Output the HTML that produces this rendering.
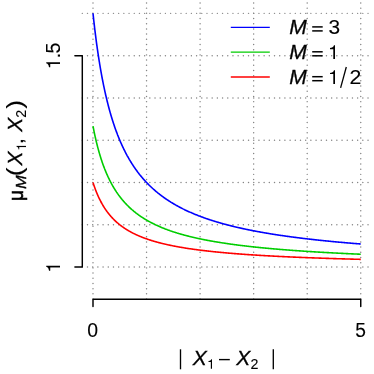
<!DOCTYPE html>
<html><head><meta charset="utf-8"><title>plot</title>
<style>
html,body{margin:0;padding:0;background:#fff;}
body{width:374px;height:374px;overflow:hidden;}
svg{display:block;}
text{font-family:"Liberation Sans",sans-serif;fill:#000;}
.i{font-style:italic;}
</style></head><body>
<svg width="374" height="374" viewBox="0 0 374 374">
<rect width="374" height="374" fill="#fff"/>
<g stroke="#858585" stroke-width="1.45" stroke-linecap="round" stroke-dasharray="0.01 5.185" fill="none">
<line x1="93.00" y1="299.05" x2="93.00" y2="2.00"/>
<line x1="146.55" y1="299.05" x2="146.55" y2="2.00"/>
<line x1="200.10" y1="299.05" x2="200.10" y2="2.00"/>
<line x1="253.65" y1="299.05" x2="253.65" y2="2.00"/>
<line x1="307.20" y1="299.05" x2="307.20" y2="2.00"/>
<line x1="360.75" y1="299.05" x2="360.75" y2="2.00"/>
<line x1="82.30" y1="267.05" x2="371.40" y2="267.05"/>
<line x1="82.30" y1="224.77" x2="371.40" y2="224.77"/>
<line x1="82.30" y1="182.49" x2="371.40" y2="182.49"/>
<line x1="82.30" y1="140.21" x2="371.40" y2="140.21"/>
<line x1="82.30" y1="97.93" x2="371.40" y2="97.93"/>
<line x1="82.30" y1="55.65" x2="371.40" y2="55.65"/>
<line x1="82.30" y1="13.37" x2="371.40" y2="13.37"/>
</g>
<g fill="none" stroke-width="1.6" stroke-linecap="butt" stroke-linejoin="round">
<path d="M93.00,13.37 L93.27,15.88 L93.54,18.34 L93.80,20.76 L94.07,23.13 L94.34,25.45 L94.61,27.73 L94.87,29.97 L95.14,32.16 L95.41,34.32 L95.68,36.43 L95.95,38.51 L96.21,40.55 L96.48,42.55 L96.75,44.52 L97.02,46.46 L97.28,48.36 L97.55,50.23 L97.82,52.07 L98.09,53.87 L98.36,55.65 L98.62,57.40 L98.89,59.12 L99.16,60.81 L99.43,62.47 L99.69,64.11 L99.96,65.72 L100.23,67.30 L100.50,68.86 L100.76,70.40 L101.03,71.91 L101.30,73.40 L101.57,74.87 L101.84,76.31 L102.10,77.74 L102.37,79.14 L102.64,80.52 L102.91,81.88 L103.17,83.22 L103.44,84.55 L103.71,85.85 L103.98,87.14 L104.25,88.40 L104.51,89.65 L104.78,90.88 L105.05,92.10 L105.32,93.30 L105.58,94.48 L105.85,95.64 L106.12,96.79 L106.39,97.93 L106.66,99.05 L106.92,100.16 L107.19,101.25 L107.46,102.32 L107.73,103.39 L107.99,104.43 L108.26,105.47 L108.53,106.49 L108.80,107.50 L109.06,108.50 L109.33,109.48 L109.60,110.46 L109.87,111.42 L110.14,112.37 L110.40,113.30 L110.67,114.23 L110.94,115.15 L111.21,116.05 L111.47,116.94 L111.74,117.83 L112.01,118.70 L112.28,119.56 L112.55,120.41 L112.81,121.26 L113.08,122.09 L113.35,122.91 L113.62,123.73 L113.88,124.53 L114.15,125.33 L114.42,126.12 L114.69,126.90 L114.96,127.67 L115.22,128.43 L115.49,129.18 L115.76,129.93 L116.03,130.66 L116.29,131.39 L116.56,132.11 L116.83,132.83 L117.10,133.53 L117.37,134.23 L117.63,134.93 L117.90,135.61 L118.17,136.29 L118.44,136.96 L118.70,137.62 L118.97,138.28 L119.24,138.93 L119.51,139.57 L119.78,140.21 L120.04,140.84 L120.31,141.47 L120.58,142.08 L120.85,142.70 L121.11,143.30 L121.38,143.90 L121.65,144.50 L121.92,145.09 L122.18,145.67 L122.45,146.25 L122.72,146.82 L122.99,147.39 L123.26,147.95 L123.52,148.51 L123.79,149.06 L124.06,149.61 L124.33,150.15 L124.59,150.68 L124.86,151.21 L125.13,151.74 L125.40,152.26 L125.67,152.78 L125.93,153.29 L126.20,153.80 L126.47,154.30 L126.74,154.80 L127.00,155.30 L127.27,155.79 L127.54,156.27 L127.81,156.75 L128.08,157.23 L128.34,157.71 L128.61,158.17 L128.88,158.64 L129.15,159.10 L129.41,159.56 L129.68,160.01 L129.95,160.46 L130.22,160.91 L130.49,161.35 L130.75,161.79 L131.02,162.22 L131.29,162.65 L131.56,163.08 L131.82,163.51 L132.09,163.93 L132.36,164.35 L132.63,164.76 L132.89,165.17 L133.16,165.58 L133.43,165.98 L133.70,166.38 L133.97,166.78 L134.23,167.18 L134.50,167.57 L134.77,167.96 L135.04,168.34 L135.30,168.72 L135.57,169.10 L135.84,169.48 L136.11,169.85 L136.38,170.23 L136.64,170.59 L136.91,170.96 L137.18,171.32 L137.45,171.68 L137.71,172.04 L137.98,172.39 L138.25,172.75 L138.52,173.09 L138.79,173.44 L139.05,173.79 L139.32,174.13 L139.59,174.47 L139.86,174.80 L140.12,175.14 L140.39,175.47 L140.66,175.80 L140.93,176.13 L141.19,176.45 L141.46,176.77 L141.73,177.09 L142.00,177.41 L142.27,177.73 L142.53,178.04 L142.80,178.35 L143.07,178.66 L143.34,178.97 L143.60,179.27 L143.87,179.57 L144.14,179.87 L144.41,180.17 L144.68,180.47 L144.94,180.76 L145.21,181.06 L145.48,181.35 L145.75,181.64 L146.01,181.92 L146.28,182.21 L146.55,182.49 L147.09,183.05 L147.62,183.60 L148.16,184.15 L148.69,184.69 L149.23,185.22 L149.76,185.74 L150.30,186.26 L150.83,186.77 L151.37,187.28 L151.91,187.78 L152.44,188.27 L152.98,188.75 L153.51,189.23 L154.05,189.71 L154.58,190.18 L155.12,190.64 L155.65,191.10 L156.19,191.55 L156.72,192.00 L157.26,192.44 L157.80,192.87 L158.33,193.31 L158.87,193.73 L159.40,194.15 L159.94,194.57 L160.47,194.98 L161.01,195.39 L161.54,195.79 L162.08,196.19 L162.62,196.58 L163.15,196.97 L163.69,197.36 L164.22,197.74 L164.76,198.12 L165.29,198.49 L165.83,198.86 L166.36,199.22 L166.90,199.58 L167.43,199.94 L167.97,200.29 L168.51,200.64 L169.04,200.99 L169.58,201.33 L170.11,201.67 L170.65,202.00 L171.18,202.34 L171.72,202.66 L172.25,202.99 L172.79,203.31 L173.32,203.63 L173.86,203.95 L174.40,204.26 L174.93,204.57 L175.47,204.87 L176.00,205.18 L176.54,205.48 L177.07,205.77 L177.61,206.07 L178.14,206.36 L178.68,206.65 L179.22,206.94 L179.75,207.22 L180.29,207.50 L180.82,207.78 L181.36,208.05 L181.89,208.33 L182.43,208.60 L182.96,208.87 L183.50,209.13 L184.04,209.40 L184.57,209.66 L185.11,209.91 L185.64,210.17 L186.18,210.43 L186.71,210.68 L187.25,210.93 L187.78,211.17 L188.32,211.42 L188.85,211.66 L189.39,211.90 L189.93,212.14 L190.46,212.38 L191.00,212.61 L191.53,212.84 L192.07,213.08 L192.60,213.30 L193.14,213.53 L193.67,213.76 L194.21,213.98 L194.75,214.20 L195.28,214.42 L195.82,214.64 L196.35,214.85 L196.89,215.07 L197.42,215.28 L197.96,215.49 L198.49,215.70 L199.03,215.90 L199.56,216.11 L200.10,216.31 L200.64,216.52 L201.17,216.72 L201.71,216.92 L202.24,217.11 L202.78,217.31 L203.31,217.50 L203.85,217.70 L204.38,217.89 L204.92,218.08 L205.45,218.27 L205.99,218.45 L206.53,218.64 L207.06,218.82 L207.60,219.00 L208.13,219.19 L208.67,219.37 L209.20,219.54 L209.74,219.72 L210.27,219.90 L210.81,220.07 L211.35,220.25 L211.88,220.42 L212.42,220.59 L212.95,220.76 L213.49,220.93 L214.02,221.09 L214.56,221.26 L215.09,221.42 L215.63,221.59 L216.16,221.75 L216.70,221.91 L217.24,222.07 L217.77,222.23 L218.31,222.39 L218.84,222.54 L219.38,222.70 L219.91,222.85 L220.45,223.01 L220.98,223.16 L221.52,223.31 L222.06,223.46 L222.59,223.61 L223.13,223.76 L223.66,223.91 L224.20,224.05 L224.73,224.20 L225.27,224.34 L225.80,224.49 L226.34,224.63 L226.88,224.77 L227.41,224.91 L227.95,225.05 L228.48,225.19 L229.02,225.33 L229.55,225.46 L230.09,225.60 L230.62,225.73 L231.16,225.87 L231.69,226.00 L232.23,226.13 L232.77,226.27 L233.30,226.40 L233.84,226.53 L234.37,226.66 L234.91,226.78 L235.44,226.91 L235.98,227.04 L236.51,227.16 L237.05,227.29 L237.59,227.41 L238.12,227.54 L238.66,227.66 L239.19,227.78 L239.73,227.90 L240.26,228.02 L240.80,228.14 L241.33,228.26 L241.87,228.38 L242.40,228.50 L242.94,228.61 L243.48,228.73 L244.01,228.85 L244.55,228.96 L245.08,229.07 L245.62,229.19 L246.15,229.30 L246.69,229.41 L247.22,229.52 L247.76,229.63 L248.30,229.74 L248.83,229.85 L249.37,229.96 L249.90,230.07 L250.44,230.18 L250.97,230.28 L251.51,230.39 L252.04,230.50 L252.58,230.60 L253.11,230.71 L253.65,230.81 L254.19,230.91 L254.72,231.02 L255.26,231.12 L255.79,231.22 L256.33,231.32 L256.86,231.42 L257.40,231.52 L257.93,231.62 L258.47,231.72 L259.00,231.82 L259.54,231.91 L260.08,232.01 L260.61,232.11 L261.15,232.20 L261.68,232.30 L262.22,232.39 L262.75,232.49 L263.29,232.58 L263.82,232.68 L264.36,232.77 L264.90,232.86 L265.43,232.95 L265.97,233.04 L266.50,233.14 L267.04,233.23 L267.57,233.32 L268.11,233.41 L268.64,233.49 L269.18,233.58 L269.72,233.67 L270.25,233.76 L270.79,233.85 L271.32,233.93 L271.86,234.02 L272.39,234.10 L272.93,234.19 L273.46,234.27 L274.00,234.36 L274.53,234.44 L275.07,234.53 L275.61,234.61 L276.14,234.69 L276.68,234.78 L277.21,234.86 L277.75,234.94 L278.28,235.02 L278.82,235.10 L279.35,235.18 L279.89,235.26 L280.42,235.34 L280.96,235.42 L281.50,235.50 L282.03,235.58 L282.57,235.65 L283.10,235.73 L283.64,235.81 L284.17,235.89 L284.71,235.96 L285.24,236.04 L285.78,236.11 L286.32,236.19 L286.85,236.26 L287.39,236.34 L287.92,236.41 L288.46,236.49 L288.99,236.56 L289.53,236.63 L290.06,236.71 L290.60,236.78 L291.13,236.85 L291.67,236.92 L292.21,236.99 L292.74,237.06 L293.28,237.13 L293.81,237.21 L294.35,237.28 L294.88,237.35 L295.42,237.41 L295.95,237.48 L296.49,237.55 L297.03,237.62 L297.56,237.69 L298.10,237.76 L298.63,237.82 L299.17,237.89 L299.70,237.96 L300.24,238.02 L300.77,238.09 L301.31,238.16 L301.84,238.22 L302.38,238.29 L302.92,238.35 L303.45,238.42 L303.99,238.48 L304.52,238.55 L305.06,238.61 L305.59,238.67 L306.13,238.74 L306.66,238.80 L307.20,238.86 L307.74,238.93 L308.27,238.99 L308.81,239.05 L309.34,239.11 L309.88,239.17 L310.41,239.23 L310.95,239.30 L311.48,239.36 L312.02,239.42 L312.55,239.48 L313.09,239.54 L313.63,239.60 L314.16,239.65 L314.70,239.71 L315.23,239.77 L315.77,239.83 L316.30,239.89 L316.84,239.95 L317.37,240.01 L317.91,240.06 L318.45,240.12 L318.98,240.18 L319.52,240.23 L320.05,240.29 L320.59,240.35 L321.12,240.40 L321.66,240.46 L322.19,240.51 L322.73,240.57 L323.26,240.62 L323.80,240.68 L324.34,240.73 L324.87,240.79 L325.41,240.84 L325.94,240.90 L326.48,240.95 L327.01,241.00 L327.55,241.06 L328.08,241.11 L328.62,241.16 L329.16,241.22 L329.69,241.27 L330.23,241.32 L330.76,241.37 L331.30,241.43 L331.83,241.48 L332.37,241.53 L332.90,241.58 L333.44,241.63 L333.98,241.68 L334.51,241.73 L335.05,241.78 L335.58,241.83 L336.12,241.88 L336.65,241.93 L337.19,241.98 L337.72,242.03 L338.26,242.08 L338.79,242.13 L339.33,242.18 L339.87,242.23 L340.40,242.28 L340.94,242.32 L341.47,242.37 L342.01,242.42 L342.54,242.47 L343.08,242.52 L343.61,242.56 L344.15,242.61 L344.69,242.66 L345.22,242.70 L345.76,242.75 L346.29,242.80 L346.83,242.84 L347.36,242.89 L347.90,242.94 L348.43,242.98 L348.97,243.03 L349.50,243.07 L350.04,243.12 L350.58,243.16 L351.11,243.21 L351.65,243.25 L352.18,243.30 L352.72,243.34 L353.25,243.39 L353.79,243.43 L354.32,243.47 L354.86,243.52 L355.39,243.56 L355.93,243.60 L356.47,243.65 L357.00,243.69 L357.54,243.73 L358.07,243.78 L358.61,243.82 L359.14,243.86 L359.68,243.90 L360.21,243.95 L360.75,243.99" stroke="#0000ff"/>
<path d="M93.00,126.12 L93.27,127.51 L93.54,128.88 L93.80,130.22 L94.07,131.54 L94.34,132.83 L94.61,134.09 L94.87,135.34 L95.14,136.56 L95.41,137.75 L95.68,138.93 L95.95,140.08 L96.21,141.22 L96.48,142.33 L96.75,143.42 L97.02,144.50 L97.28,145.56 L97.55,146.59 L97.82,147.61 L98.09,148.62 L98.36,149.61 L98.62,150.58 L98.89,151.53 L99.16,152.47 L99.43,153.39 L99.69,154.30 L99.96,155.20 L100.23,156.08 L100.50,156.95 L100.76,157.80 L101.03,158.64 L101.30,159.47 L101.57,160.28 L101.84,161.09 L102.10,161.88 L102.37,162.65 L102.64,163.42 L102.91,164.18 L103.17,164.92 L103.44,165.66 L103.71,166.38 L103.98,167.10 L104.25,167.80 L104.51,168.50 L104.78,169.18 L105.05,169.85 L105.32,170.52 L105.58,171.18 L105.85,171.82 L106.12,172.46 L106.39,173.09 L106.66,173.72 L106.92,174.33 L107.19,174.94 L107.46,175.53 L107.73,176.13 L107.99,176.71 L108.26,177.28 L108.53,177.85 L108.80,178.41 L109.06,178.97 L109.33,179.51 L109.60,180.05 L109.87,180.59 L110.14,181.12 L110.40,181.64 L110.67,182.15 L110.94,182.66 L111.21,183.16 L111.47,183.66 L111.74,184.15 L112.01,184.63 L112.28,185.11 L112.55,185.59 L112.81,186.05 L113.08,186.52 L113.35,186.97 L113.62,187.43 L113.88,187.87 L114.15,188.32 L114.42,188.75 L114.69,189.19 L114.96,189.61 L115.22,190.04 L115.49,190.46 L115.76,190.87 L116.03,191.28 L116.29,191.68 L116.56,192.09 L116.83,192.48 L117.10,192.87 L117.37,193.26 L117.63,193.65 L117.90,194.03 L118.17,194.40 L118.44,194.78 L118.70,195.15 L118.97,195.51 L119.24,195.87 L119.51,196.23 L119.78,196.58 L120.04,196.93 L120.31,197.28 L120.58,197.62 L120.85,197.97 L121.11,198.30 L121.38,198.64 L121.65,198.97 L121.92,199.29 L122.18,199.62 L122.45,199.94 L122.72,200.26 L122.99,200.57 L123.26,200.88 L123.52,201.19 L123.79,201.50 L124.06,201.80 L124.33,202.10 L124.59,202.40 L124.86,202.70 L125.13,202.99 L125.40,203.28 L125.67,203.57 L125.93,203.85 L126.20,204.13 L126.47,204.41 L126.74,204.69 L127.00,204.96 L127.27,205.24 L127.54,205.51 L127.81,205.77 L128.08,206.04 L128.34,206.30 L128.61,206.56 L128.88,206.82 L129.15,207.08 L129.41,207.33 L129.68,207.58 L129.95,207.83 L130.22,208.08 L130.49,208.33 L130.75,208.57 L131.02,208.81 L131.29,209.05 L131.56,209.29 L131.82,209.53 L132.09,209.76 L132.36,209.99 L132.63,210.22 L132.89,210.45 L133.16,210.68 L133.43,210.90 L133.70,211.12 L133.97,211.35 L134.23,211.56 L134.50,211.78 L134.77,212.00 L135.04,212.21 L135.30,212.42 L135.57,212.64 L135.84,212.84 L136.11,213.05 L136.38,213.26 L136.64,213.46 L136.91,213.67 L137.18,213.87 L137.45,214.07 L137.71,214.27 L137.98,214.46 L138.25,214.66 L138.52,214.85 L138.79,215.05 L139.05,215.24 L139.32,215.43 L139.59,215.61 L139.86,215.80 L140.12,215.99 L140.39,216.17 L140.66,216.35 L140.93,216.54 L141.19,216.72 L141.46,216.90 L141.73,217.07 L142.00,217.25 L142.27,217.43 L142.53,217.60 L142.80,217.77 L143.07,217.94 L143.34,218.11 L143.60,218.28 L143.87,218.45 L144.14,218.62 L144.41,218.79 L144.68,218.95 L144.94,219.11 L145.21,219.28 L145.48,219.44 L145.75,219.60 L146.01,219.76 L146.28,219.92 L146.55,220.07 L147.09,220.38 L147.62,220.69 L148.16,220.99 L148.69,221.29 L149.23,221.59 L149.76,221.88 L150.30,222.17 L150.83,222.45 L151.37,222.73 L151.91,223.01 L152.44,223.28 L152.98,223.55 L153.51,223.82 L154.05,224.08 L154.58,224.34 L155.12,224.60 L155.65,224.85 L156.19,225.11 L156.72,225.35 L157.26,225.60 L157.80,225.84 L158.33,226.08 L158.87,226.32 L159.40,226.55 L159.94,226.78 L160.47,227.01 L161.01,227.24 L161.54,227.46 L162.08,227.68 L162.62,227.90 L163.15,228.12 L163.69,228.33 L164.22,228.54 L164.76,228.75 L165.29,228.96 L165.83,229.16 L166.36,229.37 L166.90,229.57 L167.43,229.77 L167.97,229.96 L168.51,230.16 L169.04,230.35 L169.58,230.54 L170.11,230.73 L170.65,230.91 L171.18,231.10 L171.72,231.28 L172.25,231.46 L172.79,231.64 L173.32,231.82 L173.86,231.99 L174.40,232.17 L174.93,232.34 L175.47,232.51 L176.00,232.68 L176.54,232.84 L177.07,233.01 L177.61,233.17 L178.14,233.33 L178.68,233.49 L179.22,233.65 L179.75,233.81 L180.29,233.97 L180.82,234.12 L181.36,234.27 L181.89,234.43 L182.43,234.58 L182.96,234.73 L183.50,234.87 L184.04,235.02 L184.57,235.16 L185.11,235.31 L185.64,235.45 L186.18,235.59 L186.71,235.73 L187.25,235.87 L187.78,236.01 L188.32,236.14 L188.85,236.28 L189.39,236.41 L189.93,236.54 L190.46,236.68 L191.00,236.81 L191.53,236.94 L192.07,237.06 L192.60,237.19 L193.14,237.32 L193.67,237.44 L194.21,237.57 L194.75,237.69 L195.28,237.81 L195.82,237.93 L196.35,238.05 L196.89,238.17 L197.42,238.29 L197.96,238.41 L198.49,238.52 L199.03,238.64 L199.56,238.75 L200.10,238.86 L200.64,238.98 L201.17,239.09 L201.71,239.20 L202.24,239.31 L202.78,239.42 L203.31,239.52 L203.85,239.63 L204.38,239.74 L204.92,239.84 L205.45,239.95 L205.99,240.05 L206.53,240.15 L207.06,240.26 L207.60,240.36 L208.13,240.46 L208.67,240.56 L209.20,240.66 L209.74,240.76 L210.27,240.85 L210.81,240.95 L211.35,241.05 L211.88,241.14 L212.42,241.24 L212.95,241.33 L213.49,241.43 L214.02,241.52 L214.56,241.61 L215.09,241.70 L215.63,241.79 L216.16,241.88 L216.70,241.97 L217.24,242.06 L217.77,242.15 L218.31,242.24 L218.84,242.32 L219.38,242.41 L219.91,242.50 L220.45,242.58 L220.98,242.67 L221.52,242.75 L222.06,242.83 L222.59,242.92 L223.13,243.00 L223.66,243.08 L224.20,243.16 L224.73,243.24 L225.27,243.32 L225.80,243.40 L226.34,243.48 L226.88,243.56 L227.41,243.64 L227.95,243.72 L228.48,243.79 L229.02,243.87 L229.55,243.95 L230.09,244.02 L230.62,244.10 L231.16,244.17 L231.69,244.25 L232.23,244.32 L232.77,244.39 L233.30,244.46 L233.84,244.54 L234.37,244.61 L234.91,244.68 L235.44,244.75 L235.98,244.82 L236.51,244.89 L237.05,244.96 L237.59,245.03 L238.12,245.10 L238.66,245.17 L239.19,245.23 L239.73,245.30 L240.26,245.37 L240.80,245.43 L241.33,245.50 L241.87,245.57 L242.40,245.63 L242.94,245.70 L243.48,245.76 L244.01,245.83 L244.55,245.89 L245.08,245.95 L245.62,246.02 L246.15,246.08 L246.69,246.14 L247.22,246.20 L247.76,246.26 L248.30,246.32 L248.83,246.39 L249.37,246.45 L249.90,246.51 L250.44,246.57 L250.97,246.62 L251.51,246.68 L252.04,246.74 L252.58,246.80 L253.11,246.86 L253.65,246.92 L254.19,246.97 L254.72,247.03 L255.26,247.09 L255.79,247.14 L256.33,247.20 L256.86,247.26 L257.40,247.31 L257.93,247.37 L258.47,247.42 L259.00,247.48 L259.54,247.53 L260.08,247.58 L260.61,247.64 L261.15,247.69 L261.68,247.74 L262.22,247.80 L262.75,247.85 L263.29,247.90 L263.82,247.95 L264.36,248.00 L264.90,248.06 L265.43,248.11 L265.97,248.16 L266.50,248.21 L267.04,248.26 L267.57,248.31 L268.11,248.36 L268.64,248.41 L269.18,248.46 L269.72,248.51 L270.25,248.55 L270.79,248.60 L271.32,248.65 L271.86,248.70 L272.39,248.75 L272.93,248.79 L273.46,248.84 L274.00,248.89 L274.53,248.94 L275.07,248.98 L275.61,249.03 L276.14,249.07 L276.68,249.12 L277.21,249.17 L277.75,249.21 L278.28,249.26 L278.82,249.30 L279.35,249.34 L279.89,249.39 L280.42,249.43 L280.96,249.48 L281.50,249.52 L282.03,249.56 L282.57,249.61 L283.10,249.65 L283.64,249.69 L284.17,249.74 L284.71,249.78 L285.24,249.82 L285.78,249.86 L286.32,249.90 L286.85,249.95 L287.39,249.99 L287.92,250.03 L288.46,250.07 L288.99,250.11 L289.53,250.15 L290.06,250.19 L290.60,250.23 L291.13,250.27 L291.67,250.31 L292.21,250.35 L292.74,250.39 L293.28,250.43 L293.81,250.47 L294.35,250.51 L294.88,250.55 L295.42,250.59 L295.95,250.62 L296.49,250.66 L297.03,250.70 L297.56,250.74 L298.10,250.78 L298.63,250.81 L299.17,250.85 L299.70,250.89 L300.24,250.92 L300.77,250.96 L301.31,251.00 L301.84,251.03 L302.38,251.07 L302.92,251.11 L303.45,251.14 L303.99,251.18 L304.52,251.21 L305.06,251.25 L305.59,251.29 L306.13,251.32 L306.66,251.36 L307.20,251.39 L307.74,251.43 L308.27,251.46 L308.81,251.49 L309.34,251.53 L309.88,251.56 L310.41,251.60 L310.95,251.63 L311.48,251.66 L312.02,251.70 L312.55,251.73 L313.09,251.76 L313.63,251.80 L314.16,251.83 L314.70,251.86 L315.23,251.90 L315.77,251.93 L316.30,251.96 L316.84,251.99 L317.37,252.03 L317.91,252.06 L318.45,252.09 L318.98,252.12 L319.52,252.15 L320.05,252.18 L320.59,252.21 L321.12,252.25 L321.66,252.28 L322.19,252.31 L322.73,252.34 L323.26,252.37 L323.80,252.40 L324.34,252.43 L324.87,252.46 L325.41,252.49 L325.94,252.52 L326.48,252.55 L327.01,252.58 L327.55,252.61 L328.08,252.64 L328.62,252.67 L329.16,252.70 L329.69,252.73 L330.23,252.76 L330.76,252.79 L331.30,252.81 L331.83,252.84 L332.37,252.87 L332.90,252.90 L333.44,252.93 L333.98,252.96 L334.51,252.98 L335.05,253.01 L335.58,253.04 L336.12,253.07 L336.65,253.10 L337.19,253.12 L337.72,253.15 L338.26,253.18 L338.79,253.21 L339.33,253.23 L339.87,253.26 L340.40,253.29 L340.94,253.31 L341.47,253.34 L342.01,253.37 L342.54,253.39 L343.08,253.42 L343.61,253.45 L344.15,253.47 L344.69,253.50 L345.22,253.52 L345.76,253.55 L346.29,253.58 L346.83,253.60 L347.36,253.63 L347.90,253.65 L348.43,253.68 L348.97,253.70 L349.50,253.73 L350.04,253.75 L350.58,253.78 L351.11,253.80 L351.65,253.83 L352.18,253.85 L352.72,253.88 L353.25,253.90 L353.79,253.93 L354.32,253.95 L354.86,253.98 L355.39,254.00 L355.93,254.02 L356.47,254.05 L357.00,254.07 L357.54,254.10 L358.07,254.12 L358.61,254.14 L359.14,254.17 L359.68,254.19 L360.21,254.21 L360.75,254.24" stroke="#00cd00"/>
<path d="M93.00,182.49 L93.27,183.33 L93.54,184.15 L93.80,184.95 L94.07,185.74 L94.34,186.52 L94.61,187.28 L94.87,188.02 L95.14,188.75 L95.41,189.47 L95.68,190.18 L95.95,190.87 L96.21,191.55 L96.48,192.22 L96.75,192.87 L97.02,193.52 L97.28,194.15 L97.55,194.78 L97.82,195.39 L98.09,195.99 L98.36,196.58 L98.62,197.17 L98.89,197.74 L99.16,198.30 L99.43,198.86 L99.69,199.40 L99.96,199.94 L100.23,200.47 L100.50,200.99 L100.76,201.50 L101.03,202.00 L101.30,202.50 L101.57,202.99 L101.84,203.47 L102.10,203.95 L102.37,204.41 L102.64,204.87 L102.91,205.33 L103.17,205.77 L103.44,206.22 L103.71,206.65 L103.98,207.08 L104.25,207.50 L104.51,207.92 L104.78,208.33 L105.05,208.73 L105.32,209.13 L105.58,209.53 L105.85,209.91 L106.12,210.30 L106.39,210.68 L106.66,211.05 L106.92,211.42 L107.19,211.78 L107.46,212.14 L107.73,212.50 L107.99,212.84 L108.26,213.19 L108.53,213.53 L108.80,213.87 L109.06,214.20 L109.33,214.53 L109.60,214.85 L109.87,215.17 L110.14,215.49 L110.40,215.80 L110.67,216.11 L110.94,216.42 L111.21,216.72 L111.47,217.01 L111.74,217.31 L112.01,217.60 L112.28,217.89 L112.55,218.17 L112.81,218.45 L113.08,218.73 L113.35,219.00 L113.62,219.28 L113.88,219.54 L114.15,219.81 L114.42,220.07 L114.69,220.33 L114.96,220.59 L115.22,220.84 L115.49,221.09 L115.76,221.34 L116.03,221.59 L116.29,221.83 L116.56,222.07 L116.83,222.31 L117.10,222.54 L117.37,222.78 L117.63,223.01 L117.90,223.24 L118.17,223.46 L118.44,223.69 L118.70,223.91 L118.97,224.13 L119.24,224.34 L119.51,224.56 L119.78,224.77 L120.04,224.98 L120.31,225.19 L120.58,225.39 L120.85,225.60 L121.11,225.80 L121.38,226.00 L121.65,226.20 L121.92,226.40 L122.18,226.59 L122.45,226.78 L122.72,226.97 L122.99,227.16 L123.26,227.35 L123.52,227.54 L123.79,227.72 L124.06,227.90 L124.33,228.08 L124.59,228.26 L124.86,228.44 L125.13,228.61 L125.40,228.79 L125.67,228.96 L125.93,229.13 L126.20,229.30 L126.47,229.47 L126.74,229.63 L127.00,229.80 L127.27,229.96 L127.54,230.12 L127.81,230.28 L128.08,230.44 L128.34,230.60 L128.61,230.76 L128.88,230.91 L129.15,231.07 L129.41,231.22 L129.68,231.37 L129.95,231.52 L130.22,231.67 L130.49,231.82 L130.75,231.96 L131.02,232.11 L131.29,232.25 L131.56,232.39 L131.82,232.54 L132.09,232.68 L132.36,232.82 L132.63,232.95 L132.89,233.09 L133.16,233.23 L133.43,233.36 L133.70,233.49 L133.97,233.63 L134.23,233.76 L134.50,233.89 L134.77,234.02 L135.04,234.15 L135.30,234.27 L135.57,234.40 L135.84,234.53 L136.11,234.65 L136.38,234.78 L136.64,234.90 L136.91,235.02 L137.18,235.14 L137.45,235.26 L137.71,235.38 L137.98,235.50 L138.25,235.62 L138.52,235.73 L138.79,235.85 L139.05,235.96 L139.32,236.08 L139.59,236.19 L139.86,236.30 L140.12,236.41 L140.39,236.52 L140.66,236.63 L140.93,236.74 L141.19,236.85 L141.46,236.96 L141.73,237.06 L142.00,237.17 L142.27,237.28 L142.53,237.38 L142.80,237.48 L143.07,237.59 L143.34,237.69 L143.60,237.79 L143.87,237.89 L144.14,237.99 L144.41,238.09 L144.68,238.19 L144.94,238.29 L145.21,238.39 L145.48,238.48 L145.75,238.58 L146.01,238.67 L146.28,238.77 L146.55,238.86 L147.09,239.05 L147.62,239.23 L148.16,239.42 L148.69,239.60 L149.23,239.77 L149.76,239.95 L150.30,240.12 L150.83,240.29 L151.37,240.46 L151.91,240.62 L152.44,240.79 L152.98,240.95 L153.51,241.11 L154.05,241.27 L154.58,241.43 L155.12,241.58 L155.65,241.73 L156.19,241.88 L156.72,242.03 L157.26,242.18 L157.80,242.32 L158.33,242.47 L158.87,242.61 L159.40,242.75 L159.94,242.89 L160.47,243.03 L161.01,243.16 L161.54,243.30 L162.08,243.43 L162.62,243.56 L163.15,243.69 L163.69,243.82 L164.22,243.95 L164.76,244.07 L165.29,244.20 L165.83,244.32 L166.36,244.44 L166.90,244.56 L167.43,244.68 L167.97,244.80 L168.51,244.91 L169.04,245.03 L169.58,245.14 L170.11,245.26 L170.65,245.37 L171.18,245.48 L171.72,245.59 L172.25,245.70 L172.79,245.80 L173.32,245.91 L173.86,246.02 L174.40,246.12 L174.93,246.22 L175.47,246.32 L176.00,246.43 L176.54,246.53 L177.07,246.62 L177.61,246.72 L178.14,246.82 L178.68,246.92 L179.22,247.01 L179.75,247.11 L180.29,247.20 L180.82,247.29 L181.36,247.38 L181.89,247.48 L182.43,247.57 L182.96,247.66 L183.50,247.74 L184.04,247.83 L184.57,247.92 L185.11,248.00 L185.64,248.09 L186.18,248.17 L186.71,248.26 L187.25,248.34 L187.78,248.42 L188.32,248.51 L188.85,248.59 L189.39,248.67 L189.93,248.75 L190.46,248.83 L191.00,248.90 L191.53,248.98 L192.07,249.06 L192.60,249.13 L193.14,249.21 L193.67,249.29 L194.21,249.36 L194.75,249.43 L195.28,249.51 L195.82,249.58 L196.35,249.65 L196.89,249.72 L197.42,249.79 L197.96,249.86 L198.49,249.93 L199.03,250.00 L199.56,250.07 L200.10,250.14 L200.64,250.21 L201.17,250.27 L201.71,250.34 L202.24,250.40 L202.78,250.47 L203.31,250.53 L203.85,250.60 L204.38,250.66 L204.92,250.73 L205.45,250.79 L205.99,250.85 L206.53,250.91 L207.06,250.97 L207.60,251.03 L208.13,251.10 L208.67,251.16 L209.20,251.21 L209.74,251.27 L210.27,251.33 L210.81,251.39 L211.35,251.45 L211.88,251.51 L212.42,251.56 L212.95,251.62 L213.49,251.68 L214.02,251.73 L214.56,251.79 L215.09,251.84 L215.63,251.90 L216.16,251.95 L216.70,252.00 L217.24,252.06 L217.77,252.11 L218.31,252.16 L218.84,252.21 L219.38,252.27 L219.91,252.32 L220.45,252.37 L220.98,252.42 L221.52,252.47 L222.06,252.52 L222.59,252.57 L223.13,252.62 L223.66,252.67 L224.20,252.72 L224.73,252.77 L225.27,252.81 L225.80,252.86 L226.34,252.91 L226.88,252.96 L227.41,253.00 L227.95,253.05 L228.48,253.10 L229.02,253.14 L229.55,253.19 L230.09,253.23 L230.62,253.28 L231.16,253.32 L231.69,253.37 L232.23,253.41 L232.77,253.46 L233.30,253.50 L233.84,253.54 L234.37,253.59 L234.91,253.63 L235.44,253.67 L235.98,253.71 L236.51,253.75 L237.05,253.80 L237.59,253.84 L238.12,253.88 L238.66,253.92 L239.19,253.96 L239.73,254.00 L240.26,254.04 L240.80,254.08 L241.33,254.12 L241.87,254.16 L242.40,254.20 L242.94,254.24 L243.48,254.28 L244.01,254.32 L244.55,254.35 L245.08,254.39 L245.62,254.43 L246.15,254.47 L246.69,254.50 L247.22,254.54 L247.76,254.58 L248.30,254.61 L248.83,254.65 L249.37,254.69 L249.90,254.72 L250.44,254.76 L250.97,254.79 L251.51,254.83 L252.04,254.87 L252.58,254.90 L253.11,254.94 L253.65,254.97 L254.19,255.00 L254.72,255.04 L255.26,255.07 L255.79,255.11 L256.33,255.14 L256.86,255.17 L257.40,255.21 L257.93,255.24 L258.47,255.27 L259.00,255.31 L259.54,255.34 L260.08,255.37 L260.61,255.40 L261.15,255.43 L261.68,255.47 L262.22,255.50 L262.75,255.53 L263.29,255.56 L263.82,255.59 L264.36,255.62 L264.90,255.65 L265.43,255.68 L265.97,255.71 L266.50,255.75 L267.04,255.78 L267.57,255.81 L268.11,255.84 L268.64,255.86 L269.18,255.89 L269.72,255.92 L270.25,255.95 L270.79,255.98 L271.32,256.01 L271.86,256.04 L272.39,256.07 L272.93,256.10 L273.46,256.12 L274.00,256.15 L274.53,256.18 L275.07,256.21 L275.61,256.24 L276.14,256.26 L276.68,256.29 L277.21,256.32 L277.75,256.35 L278.28,256.37 L278.82,256.40 L279.35,256.43 L279.89,256.45 L280.42,256.48 L280.96,256.51 L281.50,256.53 L282.03,256.56 L282.57,256.58 L283.10,256.61 L283.64,256.64 L284.17,256.66 L284.71,256.69 L285.24,256.71 L285.78,256.74 L286.32,256.76 L286.85,256.79 L287.39,256.81 L287.92,256.84 L288.46,256.86 L288.99,256.89 L289.53,256.91 L290.06,256.94 L290.60,256.96 L291.13,256.98 L291.67,257.01 L292.21,257.03 L292.74,257.05 L293.28,257.08 L293.81,257.10 L294.35,257.13 L294.88,257.15 L295.42,257.17 L295.95,257.19 L296.49,257.22 L297.03,257.24 L297.56,257.26 L298.10,257.29 L298.63,257.31 L299.17,257.33 L299.70,257.35 L300.24,257.37 L300.77,257.40 L301.31,257.42 L301.84,257.44 L302.38,257.46 L302.92,257.48 L303.45,257.51 L303.99,257.53 L304.52,257.55 L305.06,257.57 L305.59,257.59 L306.13,257.61 L306.66,257.63 L307.20,257.65 L307.74,257.68 L308.27,257.70 L308.81,257.72 L309.34,257.74 L309.88,257.76 L310.41,257.78 L310.95,257.80 L311.48,257.82 L312.02,257.84 L312.55,257.86 L313.09,257.88 L313.63,257.90 L314.16,257.92 L314.70,257.94 L315.23,257.96 L315.77,257.98 L316.30,258.00 L316.84,258.02 L317.37,258.04 L317.91,258.05 L318.45,258.07 L318.98,258.09 L319.52,258.11 L320.05,258.13 L320.59,258.15 L321.12,258.17 L321.66,258.19 L322.19,258.20 L322.73,258.22 L323.26,258.24 L323.80,258.26 L324.34,258.28 L324.87,258.30 L325.41,258.31 L325.94,258.33 L326.48,258.35 L327.01,258.37 L327.55,258.39 L328.08,258.40 L328.62,258.42 L329.16,258.44 L329.69,258.46 L330.23,258.47 L330.76,258.49 L331.30,258.51 L331.83,258.53 L332.37,258.54 L332.90,258.56 L333.44,258.58 L333.98,258.59 L334.51,258.61 L335.05,258.63 L335.58,258.64 L336.12,258.66 L336.65,258.68 L337.19,258.69 L337.72,258.71 L338.26,258.73 L338.79,258.74 L339.33,258.76 L339.87,258.78 L340.40,258.79 L340.94,258.81 L341.47,258.82 L342.01,258.84 L342.54,258.86 L343.08,258.87 L343.61,258.89 L344.15,258.90 L344.69,258.92 L345.22,258.93 L345.76,258.95 L346.29,258.97 L346.83,258.98 L347.36,259.00 L347.90,259.01 L348.43,259.03 L348.97,259.04 L349.50,259.06 L350.04,259.07 L350.58,259.09 L351.11,259.10 L351.65,259.12 L352.18,259.13 L352.72,259.15 L353.25,259.16 L353.79,259.18 L354.32,259.19 L354.86,259.21 L355.39,259.22 L355.93,259.23 L356.47,259.25 L357.00,259.26 L357.54,259.28 L358.07,259.29 L358.61,259.31 L359.14,259.32 L359.68,259.33 L360.21,259.35 L360.75,259.36" stroke="#ff0000"/>
</g>
<g fill="none" stroke="#000" stroke-width="1.45" stroke-linecap="round" stroke-linejoin="round">
<path d="M93.00,306.60 V299.20 H360.75 V306.60"/>
<path d="M74.90,267.05 H82.30 V55.65 H74.90"/>
</g>
<g stroke-width="1.3" stroke-linecap="butt">
<line x1="230.8" y1="27.4" x2="269.8" y2="27.4" stroke="#0000ff"/>
<line x1="230.8" y1="52.05" x2="269.8" y2="52.05" stroke="#00cd00"/>
<line x1="230.8" y1="77.0" x2="269.8" y2="77.0" stroke="#ff0000"/>
</g>
<g opacity="0.999">
<text transform="translate(87.24,336.80) scale(0.9926,1.0000)" font-size="19.6" stroke="#000" stroke-width="0.12">0</text>
<text transform="translate(355.33,336.80) scale(0.9793,1.0000)" font-size="19.6" stroke="#000" stroke-width="0.12">5</text>
<text transform="translate(289.15,34.10) scale(1.0748,1.0000)" font-size="19.6" class="i" stroke="#000" stroke-width="0.3">M</text>
<line x1="312.20" x2="322.70" y1="26.90" y2="26.90" stroke="#000" stroke-width="1.5"/><line x1="312.20" x2="322.70" y1="30.90" y2="30.90" stroke="#000" stroke-width="1.5"/>
<text transform="translate(328.40,34.10) scale(1.0653,1.0000)" font-size="19.6" stroke="#000" stroke-width="0.12">3</text>
<text transform="translate(289.15,59.00) scale(1.0748,1.0000)" font-size="19.6" class="i" stroke="#000" stroke-width="0.3">M</text>
<line x1="312.20" x2="322.70" y1="51.80" y2="51.80" stroke="#000" stroke-width="1.5"/><line x1="312.20" x2="322.70" y1="55.80" y2="55.80" stroke="#000" stroke-width="1.5"/>
<path d="M271,0 L271,505 L101,505 L101,568 Q232,574 276,640 Q293,668 303,709 L359,709 L359,0 Z" transform="translate(328.04,59.00) scale(0.01939,-0.01939)" fill="#000"/>
<text transform="translate(289.15,83.90) scale(1.0748,1.0000)" font-size="19.6" class="i" stroke="#000" stroke-width="0.3">M</text>
<line x1="312.20" x2="322.70" y1="76.70" y2="76.70" stroke="#000" stroke-width="1.5"/><line x1="312.20" x2="322.70" y1="80.70" y2="80.70" stroke="#000" stroke-width="1.5"/>
<path d="M271,0 L271,505 L101,505 L101,568 Q232,574 276,640 Q293,668 303,709 L359,709 L359,0 Z" transform="translate(328.04,83.90) scale(0.01939,-0.01939)" fill="#000"/>
<text transform="translate(349.43,83.90) scale(1.0863,1.0000)" font-size="19.6" stroke="#000" stroke-width="0.12">2</text>
<text transform="translate(192.70,364.70) scale(1.0741,1.0300)" font-size="19.6" class="i" stroke="#000" stroke-width="0.3">X</text>
<path d="M271,0 L271,505 L101,505 L101,568 Q232,574 276,640 Q293,668 303,709 L359,709 L359,0 Z" transform="translate(207.13,368.80) scale(0.01360,-0.01360)" fill="#000"/>
<text transform="translate(236.30,364.70) scale(1.0741,1.0300)" font-size="19.6" class="i" stroke="#000" stroke-width="0.3">X</text>
<text transform="translate(250.58,368.80) scale(1.0191,1.0000)" font-size="14.0" stroke="#000" stroke-width="0.12">2</text>
<g transform="rotate(-90)">
<text transform="translate(-200.98,22.50) scale(0.9723,1.0400)" font-size="19.6" stroke="#000" stroke-width="0.6">μ</text>
<text transform="translate(-189.11,26.10) scale(1.1753,1.0000)" font-size="14.0" class="i" stroke="#000" stroke-width="0.3">M</text>
<text transform="translate(-165.60,22.00) scale(1.0669,1.0400)" font-size="19.6" class="i" stroke="#000" stroke-width="0.3">X</text>
<path d="M271,0 L271,505 L101,505 L101,568 Q232,574 276,640 Q293,668 303,709 L359,709 L359,0 Z" transform="translate(-150.77,26.10) scale(0.01360,-0.01360)" fill="#000"/>
<text transform="translate(-144.21,22.50) scale(1.1437,1.0000)" font-size="19.6" stroke="#000" stroke-width="0.12">,</text>
<text transform="translate(-131.70,22.00) scale(1.0669,1.0400)" font-size="19.6" class="i" stroke="#000" stroke-width="0.3">X</text>
<text transform="translate(-117.72,26.10) scale(1.0191,1.0000)" font-size="14.0" stroke="#000" stroke-width="0.12">2</text>
<text transform="translate(-176.34,22.28) scale(1.1580,1.0000)" font-size="22.8" stroke="#000" stroke-width="0.12">(</text>
<text transform="translate(-108.75,22.28) scale(1.1580,1.0000)" font-size="22.8" stroke="#000" stroke-width="0.12">)</text>
<path d="M271,0 L271,505 L101,505 L101,568 Q232,574 276,640 Q293,668 303,709 L359,709 L359,0 Z" transform="translate(-69.21,60.00) scale(0.01939,-0.01939)" fill="#000"/>
<text transform="translate(-58.47,60.00) scale(1.0717,1.0000)" font-size="19.6" stroke="#000" stroke-width="0.12">.</text>
<text transform="translate(-53.44,60.00) scale(1.0008,1.0000)" font-size="19.6" stroke="#000" stroke-width="0.12">5</text>
<path d="M271,0 L271,505 L101,505 L101,568 Q232,574 276,640 Q293,668 303,709 L359,709 L359,0 Z" transform="translate(-272.71,60.00) scale(0.01939,-0.01939)" fill="#000"/>
</g>
<g stroke="#000" fill="none" stroke-linecap="butt">
<line x1="180.5" y1="349.3" x2="180.5" y2="369.3" stroke-width="1.35"/>
<line x1="273.3" y1="349.3" x2="273.3" y2="369.3" stroke-width="1.35"/>
<line x1="219.0" y1="359.6" x2="229.8" y2="359.6" stroke-width="1.4"/>
<line x1="340.6" y1="87.8" x2="346.3" y2="67.0" stroke-width="1.3"/>
</g>
</g>
</svg>
</body></html>
